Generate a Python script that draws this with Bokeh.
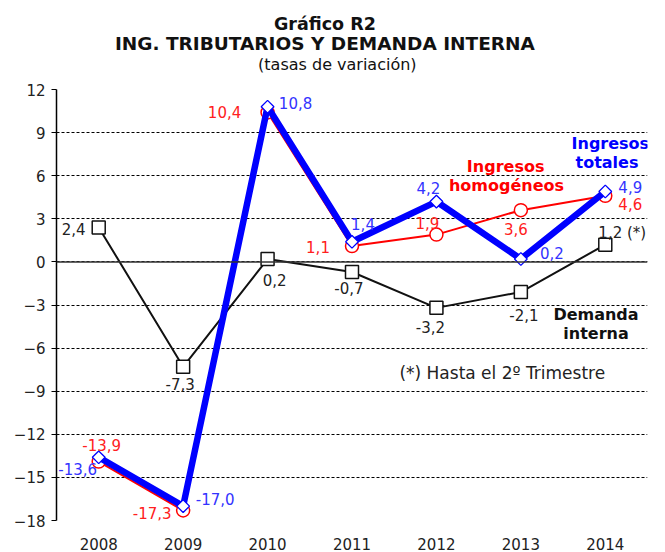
import math
from bokeh.plotting import figure
from bokeh.layouts import column
from bokeh.models import FactorRange, Range1d, FixedTicker, Span, Label, ColumnDataSource
from bokeh.core.properties import value
from bokeh.embed import file_html
from bokeh.resources import INLINE

# ---------------- data ----------------
years = ["2008", "2009", "2010", "2011", "2012", "2013", "2014"]
ingresos_totales = [-13.6, -17.0, 10.8, 1.4, 4.2, 0.2, 4.9]
ingresos_homogeneos = [-13.9, -17.3, 10.4, 1.1, 1.9, 3.6, 4.6]
demanda_interna = [2.4, -7.3, 0.2, -0.7, -3.2, -2.1, 1.2]
y_ticks = [-18, -15, -12, -9, -6, -3, 0, 3, 6, 9, 12]

title_lines = ["Gráfico R2", "ING. TRIBUTARIOS Y DEMANDA INTERNA", "(tasas de variación)"]


def fmt(v):
    return f"{v:.1f}".replace(".", ",")


lbl_totales = [fmt(v) for v in ingresos_totales]
lbl_homog = [fmt(v) for v in ingresos_homogeneos]
lbl_demanda = [fmt(v) for v in demanda_interna]
lbl_demanda[-1] = lbl_demanda[-1] + " (*)"

# label placement (pixel offsets from the point, centre of text)
off_totales = [(-21, 12), (32, -7), (28, -4), (11, -18), (-8, -14), (31, -6), (25, -5)]
off_homog = [(3, -17), (-31, 3), (-43, 0), (-34, 1), (-9, -12), (-5, 19), (25, 8)]
off_demanda = [(-25, 2), (-3, 17), (7, 21), (-3, 16), (-6, 19), (3, 23), (17, -12)]

FONT = "DejaVu Sans"
BLUE = "#0000ff"
BLUE_TXT = "#3333ff"
RED = "#ff0000"
RED_TXT = "#ff2020"
BLACK = "#000000"

W = 665
TH = 79   # title strip height
MH = 552 - TH

# ---------------- title strip ----------------
t = figure(width=W, height=TH, x_range=Range1d(0, W), y_range=Range1d(TH, 0),
           output_backend="svg", toolbar_location=None,
           min_border=0, min_border_left=0, min_border_right=0,
           min_border_top=0, min_border_bottom=0)
t.axis.visible = False
t.grid.visible = False
t.outline_line_color = None
t.title.visible = False
t.background_fill_color = "white"
t.border_fill_color = "white"
title_pos = [(302, 23, "17.5px", "bold"), (302, 43, "18.5px", "bold"), (316, 64, "16px", "normal")]
for txt, (x, y, fs, st) in zip(title_lines, title_pos):
    t.text(x=[x], y=[y], text=[txt], text_align="center", text_baseline="middle",
           text_font=value(FONT), text_font_size=fs, text_font_style=st,
           text_color="#111111")

# ---------------- main chart ----------------
p = figure(width=W, height=MH,
           x_range=FactorRange(*years), y_range=Range1d(-18, 12),
           output_backend="svg", toolbar_location=None,
           min_border_left=56, min_border_right=18, min_border_bottom=32, min_border_top=10)
p.outline_line_color = None
p.background_fill_color = "white"
p.border_fill_color = "white"
p.title.visible = False

p.yaxis.ticker = FixedTicker(ticks=y_ticks)
p.yaxis.major_label_text_font = FONT
p.yaxis.major_label_text_font_size = "15px"
p.yaxis.major_label_text_color = "#222222"
p.yaxis.axis_line_color = BLACK
p.yaxis.axis_line_width = 1.5
p.yaxis.major_tick_line_color = BLACK
p.yaxis.major_tick_in = 0
p.yaxis.major_tick_out = 5
p.yaxis.minor_tick_line_color = None
p.yaxis.major_label_standoff = 6

p.xaxis.axis_line_color = None
p.xaxis.major_tick_line_color = None
p.xaxis.minor_tick_line_color = None
p.xaxis.major_label_text_font = FONT
p.xaxis.major_label_text_font_size = "15px"
p.xaxis.major_label_text_color = "#222222"
p.xaxis.major_label_standoff = 11

p.xgrid.visible = False
p.ygrid.grid_line_color = BLACK
p.ygrid.grid_line_dash = "3 2"
p.ygrid.grid_line_width = 1

p.add_layout(Span(location=0, dimension="width", line_color="#333333", line_width=1.5))

src_d = ColumnDataSource(dict(x=years, y=demanda_interna, t=lbl_demanda,
                              dx=[o[0] for o in off_demanda], dy=[o[1] for o in off_demanda]))
src_h = ColumnDataSource(dict(x=years, y=ingresos_homogeneos, t=lbl_homog,
                              dx=[o[0] for o in off_homog], dy=[o[1] for o in off_homog]))
src_t = ColumnDataSource(dict(x=years, y=ingresos_totales, t=lbl_totales,
                              dx=[o[0] for o in off_totales], dy=[o[1] for o in off_totales]))

p.line("x", "y", source=src_d, line_color="#111111", line_width=2)
p.scatter("x", "y", source=src_d, marker="square", size=13, fill_color="white",
          line_color="#111111", line_width=1.5)

p.line("x", "y", source=src_h, line_color=RED, line_width=2)
p.scatter("x", "y", source=src_h, marker="circle", size=13, fill_color="white",
          line_color=RED, line_width=1.5)

p.line("x", "y", source=src_t, line_color=BLUE, line_width=6.5)
p.scatter("x", "y", source=src_t, marker="square", angle=math.pi / 4, size=9,
          fill_color="white", line_color=BLUE, line_width=1.3)

for src, col in ((src_d, "#222222"), (src_h, RED_TXT), (src_t, BLUE_TXT)):
    p.text("x", "y", text="t", source=src, x_offset="dx", y_offset="dy",
           text_align="center", text_baseline="middle",
           text_font=value(FONT), text_font_size="15px", text_color=col)

notes = [
    ("Ingresos", 6.56, 8.25, BLUE, "bold"),
    ("totales", 6.52, 6.93, BLUE, "bold"),
    ("Ingresos", 5.32, 6.65, RED, "bold"),
    ("homogéneos", 5.33, 5.33, RED, "bold"),
    ("Demanda", 6.39, -3.69, "#111111", "bold"),
    ("interna", 6.39, -5.01, "#111111", "bold"),
]
for txt, x, y, col, st in notes:
    p.add_layout(Label(x=x, y=y, text=txt, text_align="center", text_baseline="middle",
                       text_font=FONT, text_font_size="16px", text_font_style=st,
                       text_color=col))
p.add_layout(Label(x=5.28, y=-7.72, text="(*) Hasta el 2º Trimestre", text_align="center",
                   text_baseline="middle", text_font=FONT, text_font_size="17px",
                   text_color="#222222"))

layout = column(t, p, spacing=0)
open("out.html", "w").write(file_html(layout, INLINE))
